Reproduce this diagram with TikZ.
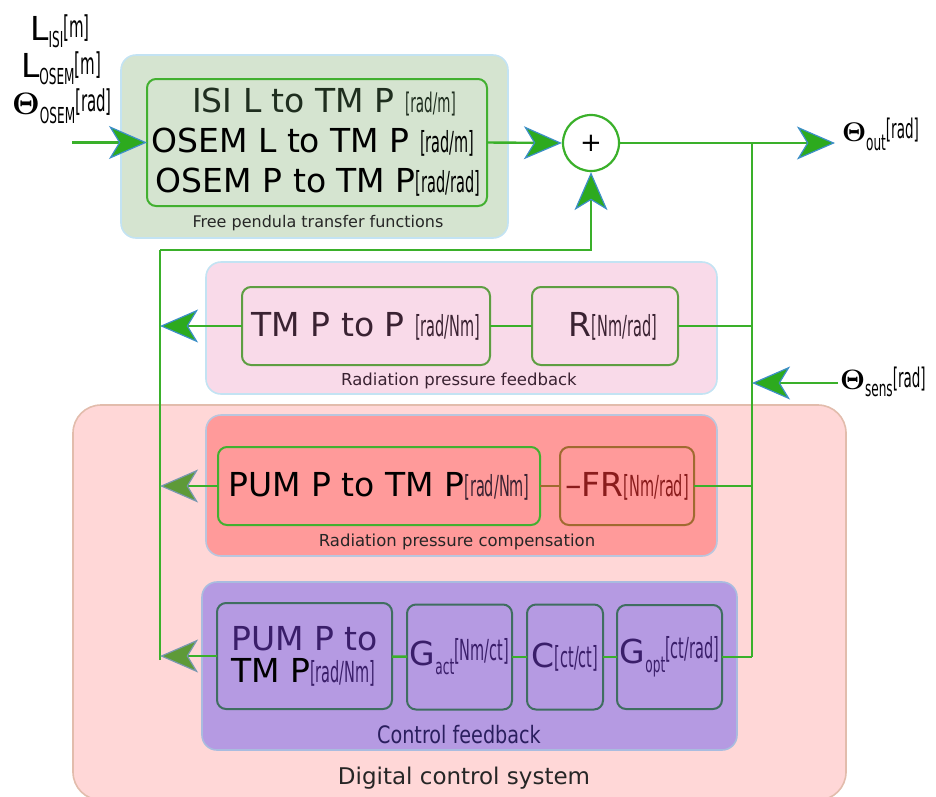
\documentclass[tikz,border=0pt]{standalone}
\usepackage[no-math]{fontspec}
\setmainfont{DejaVu Sans}
\usepackage{graphicx}
\usetikzlibrary{arrows.meta}
\definecolor{lg}{HTML}{3AB02A}
\definecolor{tipg}{HTML}{2DAA1E}
\definecolor{tipb}{HTML}{3D8FC8}
\definecolor{tipo}{HTML}{5E9A38}
\definecolor{tipob}{HTML}{7A98B0}
\definecolor{fpfill}{HTML}{D5E4D0}
\definecolor{panb}{HTML}{C3E3F3}
\definecolor{rpffill}{HTML}{F9DAE9}
\definecolor{dcsfill}{HTML}{FFD7D7}
\definecolor{dcsb}{HTML}{E2BCAC}
\definecolor{rpcfill}{HTML}{FF9A9A}
\definecolor{rpcb}{HTML}{B9C6DE}
\definecolor{cffill}{HTML}{B59AE2}
\definecolor{cfb}{HTML}{A9BCDF}
\definecolor{boxg}{HTML}{42B030}
\definecolor{boxol}{HTML}{5E9E42}
\definecolor{boxbr}{HTML}{A06A30}
\definecolor{boxt}{HTML}{3F6E60}
\definecolor{txtdk}{HTML}{1F2E1F}
\definecolor{txtrp}{HTML}{3A2232}
\definecolor{txtfr}{HTML}{8A1C1C}
\definecolor{txtcf}{HTML}{3A1E6A}
\definecolor{txtlab}{HTML}{2A1E5E}
\newcommand\bt{\fontsize{33}{34}\selectfont}
\newcommand\unt[2][29]{\scalebox{0.5}[1]{\fontsize{#1}{#1}\selectfont #2}}
\newcommand\sbs[1]{\scalebox{0.55}[1]{\fontsize{22}{22}\selectfont #1}}
\newcommand\bTheta[1]{\scalebox{#1}{$\mathbf{\Theta}$}}
\tikzset{
  panel/.style={draw, rounded corners=15pt, line width=1.6pt, inner sep=0pt, outer sep=0pt},
  blk/.style={draw, rounded corners=9pt, line width=2pt, inner sep=0pt, outer sep=0pt},
  lbl/.style={inner sep=0pt, outer sep=0pt},
  conn/.style={draw=lg, line width=2.4pt},
  tipG/.style={-{Stealth[length=38pt,width=33pt,inset=10pt,color=tipb,fill=tipg,line width=1.2pt]}},
  tipO/.style={-{Stealth[length=38pt,width=33pt,inset=10pt,color=tipob,fill=tipo,line width=1.2pt]}}
}
\begin{document}
\begin{tikzpicture}[x=1pt,y=-1pt]
\useasboundingbox (0,0) rectangle (936,796);
% panels
\node[panel, fill=fpfill, draw=panb, minimum width=387pt, minimum height=183pt] (fpP) at (314.5,146.5) {};
\node[panel, fill=rpffill, draw=panb, minimum width=511pt, minimum height=132pt] (rpfP) at (461.5,328) {};
\node[panel, fill=dcsfill, draw=dcsb, rounded corners=28pt, minimum width=773pt, minimum height=395pt] (dcsP) at (459.5,602.5) {};
\node[panel, fill=rpcfill, draw=rpcb, minimum width=511pt, minimum height=141pt] (rpcP) at (461.5,485.5) {};
\node[panel, fill=cffill, draw=cfb, minimum width=535pt, minimum height=168pt] (cfP) at (469.5,666) {};
% panel labels
\node[lbl, text=black!85] (fpL) at (318,223) {\fontsize{16}{16}\selectfont Free pendula transfer functions};
\node[lbl, text=txtrp] (rpfL) at (459,381) {\fontsize{16.5}{16.5}\selectfont Radiation pressure feedback};
\node[lbl, text=black!85] (rpcL) at (457,542) {\fontsize{16.5}{16.5}\selectfont Radiation pressure compensation};
\node[lbl, text=txtlab] (cfL) at (459,735) {\scalebox{0.8}[1]{\fontsize{24}{24}\selectfont Control feedback}};
\node[lbl, text=black!85] (dcsL) at (464,778) {\fontsize{23}{23}\selectfont Digital control system};
% blocks
\node[blk, draw=boxg, minimum width=340pt, minimum height=127pt] (fpB) at (317,142.5) {};
\node[lbl, text=txtdk] (t1) at (324,102) {\bt ISI L to TM P \unt[27]{[rad/m]}};
\node[lbl, text=black] (t2) at (313,142) {\bt OSEM L to TM P \unt{[rad/m]}};
\node[lbl, text=black] (t3) at (318,182) {\bt OSEM P to TM P\unt{[rad/rad]}};
\node[blk, draw=boxol, minimum width=248pt, minimum height=78pt, text=txtrp] (tmpB) at (366,326) {\bt TM P to P \unt{[rad/Nm]}};
\node[blk, draw=boxol, minimum width=146pt, minimum height=78pt, text=txtrp] (rB) at (605,326) {\bt\hspace*{16pt}R\unt{[Nm/rad]}};
\node[blk, draw=boxg, minimum width=322pt, minimum height=78pt] (pumB) at (379,486) {\bt PUM P to TM P{\color{txtrp}\unt{[rad/Nm]}}};
\node[blk, draw=boxbr, minimum width=134pt, minimum height=78pt, text=txtfr] (frB) at (627,486) {\bt –FR\unt{[Nm/rad]}};
\node[blk, draw=boxt, minimum width=175pt, minimum height=106pt, align=left, font=\fontsize{33}{32}\selectfont] (cpumB) at (304.5,656) {{\color{txtcf}PUM P to}\\{\color{black}TM P}{\color{txtcf}\unt{[rad/Nm]}}};
\node[blk, draw=boxt, minimum width=105pt, minimum height=105pt, text=txtcf] (gactB) at (459.5,657) {\bt G\raisebox{-9pt}{\sbs{act}}\raisebox{5pt}{\unt{[Nm/ct]}}};
\node[blk, draw=boxt, minimum width=76pt, minimum height=105pt, text=txtcf] (cB) at (565,657) {\bt C\unt{[ct/ct]}};
\node[blk, draw=boxt, minimum width=105pt, minimum height=104pt, text=txtcf] (goptB) at (669.5,657) {\bt G\raisebox{-9pt}{\sbs{opt}}\raisebox{5pt}{\unt{[ct/rad]}}};
% summation
\node[circle, draw=lg, line width=2.2pt, fill=white, minimum size=56pt, inner sep=0pt] (sum) at (591,143) {\fontsize{26}{26}\selectfont +};
% input / output labels
\node[lbl] (inL1) at (60,31) {{\bt L}\raisebox{-7pt}{\sbs{ISI}}\raisebox{3pt}{\unt[30]{[m]}}};
\node[lbl] (inL2) at (61,68) {{\bt L}\raisebox{-7pt}{\sbs{OSEM}}\raisebox{3pt}{\unt[30]{[m]}}};
\node[lbl] (inL3) at (62,106) {\bTheta{3.1}\raisebox{-9pt}{\sbs{OSEM}}\raisebox{3pt}{\unt[30]{[rad]}}};
\node[lbl, anchor=west] (thOut) at (842,134) {\bTheta{2.7}\raisebox{-9pt}{\sbs{out}}\raisebox{3pt}{\unt[27]{[rad]}}};
\node[lbl, anchor=west] (thSens) at (840,382) {\bTheta{2.8}\raisebox{-7pt}{\sbs{sens}}\raisebox{2pt}{\unt[27]{[rad]}}};
% coordinates
\coordinate (inS) at (72,142.5);
\coordinate (outE) at (835,143);
\coordinate (jTop) at (752,143);
\coordinate (jBot) at (752,657);
\coordinate (sensS) at (838,383);
\coordinate (lTop) at (160,250);
\coordinate (lBot) at (160,660);
% connectors
\draw[conn] (jTop) -- (jBot);
\draw[conn] (lBot) -- (lTop);
\draw[conn] (rB.east) -- (rB.east -| jTop);
\draw[conn] (frB.east) -- (frB.east -| jTop);
\draw[conn] (goptB.east) -- (goptB.east -| jTop);
\draw[conn] (tmpB) -- (rB);
\draw[draw=boxbr, line width=2.4pt] (pumB) -- (frB);
\draw[conn] (cpumB) -- (gactB);
\draw[conn] (gactB) -- (cB);
\draw[conn] (cB) -- (goptB);
\draw[conn, tipG] (inS) -- (fpB.west);
\draw[conn, tipG] (fpB.east) -- (sum.west);
\draw[conn, tipG] (sum.east) -- (outE);
\draw[conn, tipG] (sensS) -- (sensS -| jTop);
\draw[conn, tipG] (lTop) -| (sum.south);
\draw[conn, tipG] (tmpB.west) -- (tmpB.west -| lTop);
\draw[conn, tipO] (pumB.west) -- (pumB.west -| lTop);
\draw[conn, tipO] (cpumB.west) -- (cpumB.west -| lTop);
\end{tikzpicture}
\end{document}
